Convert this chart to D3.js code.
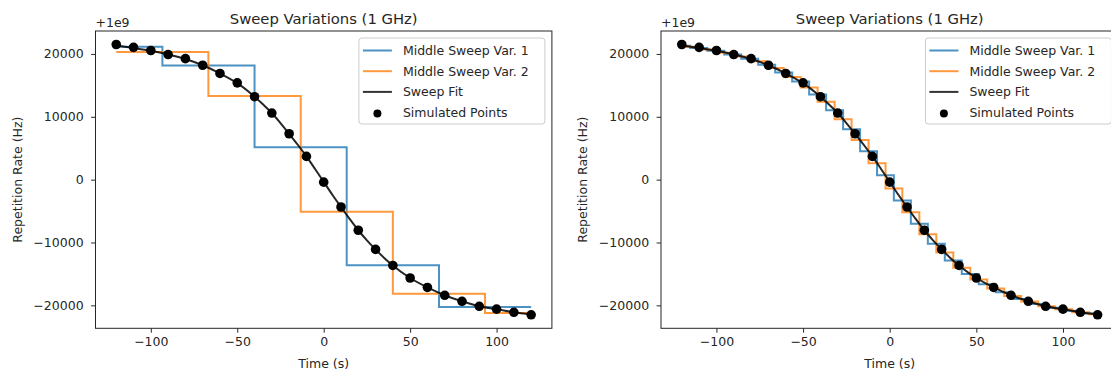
<!DOCTYPE html>
<html>
<head>
<meta charset="utf-8">
<script src="https://cdn.jsdelivr.net/npm/d3@7"></script>
<style>
  body { margin: 0; background: #fff; }
  svg { font-family: "DejaVu Sans", sans-serif; }
</style>
</head>
<body>
<svg id="chart" width="1111" height="373"></svg>
<script>
// simulated points (offset from 1e9 Hz)
const pointTimes = [-120, -110, -100, -90, -80, -70, -60, -50, -40, -30, -20, -10, 0,
  10, 20, 30, 40, 50, 60, 70, 80, 90, 100, 110, 120];
const pointValues = [21500, 21050, 20550, 19900, 19250, 18200, 16900, 15400, 13200, 10600, 7300, 3700, -400,
  -4350, -8050, -11100, -13650, -15650, -17150, -18400, -19350, -20150, -20600, -21100, -21500];

// sweep fit
const fitTimes = [-120, -110, -100, -90, -80, -70, -60, -50, -40, -35, -30, -25, -20, -15, -10, -5, 0,
  5, 10, 15, 20, 25, 30, 35, 40, 50, 60, 70, 80, 90, 100, 110, 120];
const fitValues = [21350, 20950, 20500, 19900, 19200, 18200, 16900, 15350, 13200, 11950, 10600, 9000, 7300, 5550, 3700, 1700, -350,
  -2400, -4350, -6250, -8050, -9650, -11100, -12450, -13650, -15650, -17150, -18400, -19350, -20150, -20600, -21100, -21450];

// left panel: coarse middle sweeps
const coarseVar1Edges = [-120, -93.3, -40, 13.3, 66.7, 120];
const coarseVar1Levels = [21150, 18150, 5150, -13600, -20250];
const coarseVar2Edges = [-120, -66.7, -13.3, 40, 93.3, 120];
const coarseVar2Levels = [20300, 13300, -5100, -18150, -21200];

// right panel: fine middle sweeps
const fineVar1Edges = [-120, -115.1, -105.3, -95.5, -85.7, -75.9, -66.1, -56.3, -46.5, -36.7, -26.9, -17.1, -7.3,
  2.4, 12.2, 22.0, 31.8, 41.6, 51.4, 61.2, 71.0, 80.8, 90.6, 100.4, 110.2, 120];
const fineVar1Levels = [21300, 20950, 20500, 19900, 19250, 18300, 17050, 15600, 13550, 11050, 8000, 4500, 700,
  -3300, -7000, -10200, -12850, -15000, -16650, -17900, -19000, -19800, -20400, -20850, -21300];
const fineVar2Edges = [-120, -110.2, -100.4, -90.6, -80.8, -71.0, -61.2, -51.4, -41.6, -31.8, -22.0, -12.2, -2.4,
  7.3, 17.1, 26.9, 36.7, 46.5, 56.3, 66.1, 75.9, 85.7, 95.5, 105.3, 115.1, 120];
const fineVar2Levels = [21150, 20700, 20200, 19600, 18850, 17750, 16350, 14650, 12400, 9600, 6300, 2600,
  -1400, -5200, -8700, -11600, -14000, -15900, -17300, -18500, -19400, -20150, -20600, -21100, -21400];

const xTicks = [-100, -50, 0, 50, 100];
const yTicks = [-20000, -10000, 0, 10000, 20000];
const legendLabels = ["Middle Sweep Var. 1", "Middle Sweep Var. 2", "Sweep Fit", "Simulated Points"];

const blue = "#1f77b4", orange = "#ff7f0e";
const svg = d3.select("#chart");
const plotTop = 31, plotBottom = 328.3;

function stepPoints(edges, levels) {
  const pts = levels.map((v, i) => [edges[i], v]);
  pts.push([edges[edges.length - 1], levels[levels.length - 1]]);
  return pts;
}

function drawPanel(left, right, v1, v2) {
  const g = svg.append("g");
  const x = d3.scaleLinear().domain([-132, 132]).range([left, right]);
  const y = d3.scaleLinear().domain([-23650, 23650]).range([plotBottom, plotTop]);

  const clipId = "clip" + Math.round(left);
  g.append("clipPath").attr("id", clipId)
    .append("rect").attr("x", left).attr("y", plotTop).attr("width", right - left).attr("height", plotBottom - plotTop);
  const plot = g.append("g").attr("clip-path", `url(#${clipId})`);

  const line = d3.line().x(d => x(d[0])).y(d => y(d[1]));

  plot.append("path")
    .attr("d", line.curve(d3.curveStepAfter)(stepPoints(v1.edges, v1.levels)))
    .attr("fill", "none").attr("stroke", blue).attr("stroke-opacity", 0.8).attr("stroke-width", 2);
  plot.append("path")
    .attr("d", line.curve(d3.curveStepAfter)(stepPoints(v2.edges, v2.levels)))
    .attr("fill", "none").attr("stroke", orange).attr("stroke-opacity", 0.8).attr("stroke-width", 2);
  plot.append("path")
    .attr("d", line.curve(d3.curveMonotoneX)(fitTimes.map((t, i) => [t, fitValues[i]])))
    .attr("fill", "none").attr("stroke", "#000").attr("stroke-opacity", 0.85).attr("stroke-width", 2);

  plot.selectAll("circle.pt")
    .data(pointTimes.map((t, i) => [t, pointValues[i]]))
    .enter().append("circle")
    .attr("class", "pt")
    .attr("cx", d => x(d[0])).attr("cy", d => y(d[1]))
    .attr("r", 4.8).attr("fill", "#000");

  // axes
  const xAxis = g.append("g")
    .attr("transform", `translate(0,${plotBottom})`)
    .call(d3.axisBottom(x).tickValues(xTicks).tickSize(4.4).tickPadding(4.5).tickFormat(d3.format("d")));
  const yAxis = g.append("g")
    .attr("transform", `translate(${left},0)`)
    .call(d3.axisLeft(y).tickValues(yTicks).tickSize(4.4).tickPadding(7.5).tickFormat(d3.format("d")));
  [xAxis, yAxis].forEach(a => {
    a.select(".domain").remove();
    a.selectAll("text").attr("font-size", 12.5).attr("fill", "#262626").attr("font-family", "DejaVu Sans");
    a.selectAll("line").attr("stroke", "#262626").attr("stroke-width", 1);
  });

  g.append("rect")
    .attr("x", left).attr("y", plotTop).attr("width", right - left).attr("height", plotBottom - plotTop)
    .attr("fill", "none").attr("stroke", "#262626").attr("stroke-width", 1);

  // texts
  g.append("text").attr("x", (left + right) / 2).attr("y", 23.5)
    .attr("text-anchor", "middle").attr("font-size", 14.8).attr("fill", "#262626")
    .text("Sweep Variations (1 GHz)");
  g.append("text").attr("x", left).attr("y", 27)
    .attr("font-size", 12.5).attr("fill", "#262626").text("+1e9");
  g.append("text").attr("x", (left + right) / 2).attr("y", 368)
    .attr("text-anchor", "middle").attr("font-size", 12.5).attr("fill", "#262626")
    .text("Time (s)");
  g.append("text")
    .attr("transform", `translate(${left - 74},${(plotTop + plotBottom) / 2}) rotate(-90)`)
    .attr("text-anchor", "middle").attr("font-size", 12.5).attr("fill", "#262626")
    .text("Repetition Rate (Hz)");

  // legend
  const lx = right - 193, ly = plotTop + 7;
  const leg = g.append("g");
  leg.append("rect").attr("x", lx).attr("y", ly).attr("width", 186).attr("height", 86)
    .attr("rx", 3).attr("fill", "#fff").attr("fill-opacity", 0.8)
    .attr("stroke", "#cccccc").attr("stroke-width", 1);
  const rows = leg.selectAll("g.row").data(legendLabels).enter().append("g")
    .attr("class", "row")
    .attr("transform", (d, i) => `translate(${lx},${ly + 12.5 + i * 20.7})`);
  const legColors = [blue, orange, "#000"];
  rows.filter((d, i) => i < 3).append("line")
    .attr("x1", 4).attr("x2", 33).attr("y1", 0).attr("y2", 0)
    .attr("stroke", (d, i) => legColors[i]).attr("stroke-opacity", 0.8).attr("stroke-width", 2);
  rows.filter((d, i) => i === 3).append("circle")
    .attr("cx", 18.5).attr("cy", 1).attr("r", 4).attr("fill", "#000");
  rows.append("text").attr("x", 44).attr("y", 4.5)
    .attr("font-size", 12.5).attr("fill", "#262626").text(d => d);
}

drawPanel(95.5, 551.9,
  { edges: coarseVar1Edges, levels: coarseVar1Levels },
  { edges: coarseVar2Edges, levels: coarseVar2Levels });
drawPanel(661, 1118.4,
  { edges: fineVar1Edges, levels: fineVar1Levels },
  { edges: fineVar2Edges, levels: fineVar2Levels });
</script>
</body>
</html>
